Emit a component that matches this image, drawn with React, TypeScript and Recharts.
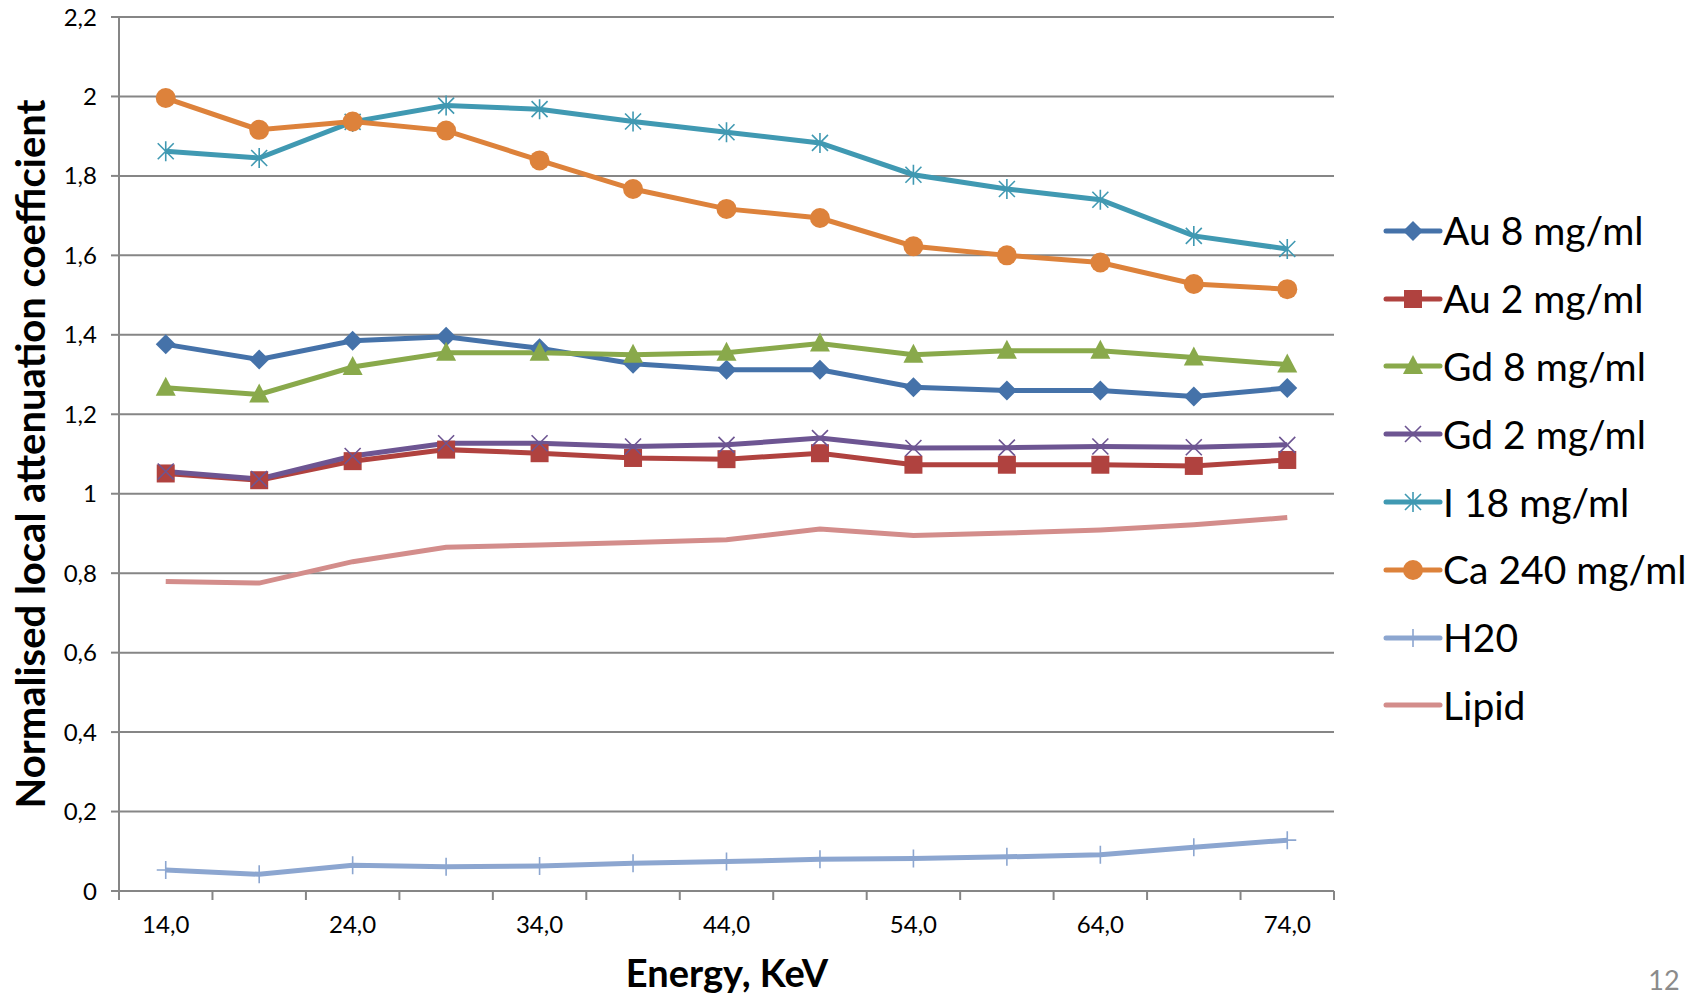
import React from 'react';
import { LineChart, Line, XAxis, YAxis, CartesianGrid } from 'recharts';

// Energy (KeV) categories
const energy = [14, 19, 24, 29, 34, 39, 44, 49, 54, 59, 64, 69, 74];

// series values
const au8 = [1.376, 1.338, 1.385, 1.395, 1.366, 1.327, 1.312, 1.312, 1.268, 1.260, 1.260, 1.245, 1.266];
const au2 = [1.051, 1.034, 1.082, 1.111, 1.102, 1.090, 1.087, 1.102, 1.073, 1.073, 1.073, 1.070, 1.085];
const gd8 = [1.267, 1.250, 1.319, 1.355, 1.355, 1.350, 1.355, 1.378, 1.350, 1.360, 1.360, 1.343, 1.325];
const gd2 = [1.056, 1.037, 1.095, 1.127, 1.127, 1.119, 1.123, 1.140, 1.115, 1.116, 1.119, 1.117, 1.123];
const i18 = [1.862, 1.845, 1.936, 1.977, 1.968, 1.937, 1.910, 1.883, 1.803, 1.767, 1.740, 1.649, 1.616];
const ca240 = [1.996, 1.916, 1.937, 1.914, 1.839, 1.767, 1.717, 1.694, 1.623, 1.600, 1.582, 1.528, 1.515];
const h2o = [0.053, 0.042, 0.065, 0.061, 0.063, 0.070, 0.074, 0.080, 0.082, 0.086, 0.091, 0.110, 0.128];
const lipid = [0.779, 0.775, 0.829, 0.865, 0.871, 0.877, 0.884, 0.911, 0.895, 0.901, 0.909, 0.922, 0.940];

// x axis: labels every other category, tick marks between categories
const xLabelTicks = [14, 24, 34, 44, 54, 64, 74];
const xBoundaryTicks = [11.5, 16.5, 21.5, 26.5, 31.5, 36.5, 41.5, 46.5, 51.5, 56.5, 61.5, 66.5, 71.5, 76.5];
const yTicks = [0, 0.2, 0.4, 0.6, 0.8, 1, 1.2, 1.4, 1.6, 1.8, 2, 2.2];

const FONT = 'Lato, "Open Sans", sans-serif';
const GRID = '#868686';

type MarkerShape = 'diamond' | 'square' | 'triangle' | 'cross' | 'star' | 'circle' | 'plus' | 'none';

const series: { key: string; name: string; color: string; marker: MarkerShape; values: number[] }[] = [
  { key: 'au8', name: 'Au 8 mg/ml', color: '#4572A9', marker: 'diamond', values: au8 },
  { key: 'au2', name: 'Au 2 mg/ml', color: '#B0423F', marker: 'square', values: au2 },
  { key: 'gd8', name: 'Gd 8 mg/ml', color: '#89A94B', marker: 'triangle', values: gd8 },
  { key: 'gd2', name: 'Gd 2 mg/ml', color: '#6D5592', marker: 'cross', values: gd2 },
  { key: 'i18', name: 'I 18 mg/ml', color: '#4099B2', marker: 'star', values: i18 },
  { key: 'ca240', name: 'Ca 240 mg/ml', color: '#DD823B', marker: 'circle', values: ca240 },
  { key: 'h2o', name: 'H20', color: '#8CA6D0', marker: 'plus', values: h2o },
  { key: 'lipid', name: 'Lipid', color: '#D38D8B', marker: 'none', values: lipid },
];

const data = energy.map((e, i) => {
  const row: Record<string, number> = { energy: e };
  series.forEach((s) => {
    row[s.key] = s.values[i];
  });
  return row;
});

function Marker({ shape, cx, cy, color }: { shape: MarkerShape; cx: number; cy: number; color: string }) {
  switch (shape) {
    case 'diamond':
      return <path d={`M${cx},${cy - 10}L${cx + 10},${cy}L${cx},${cy + 10}L${cx - 10},${cy}Z`} fill={color} />;
    case 'square':
      return <rect x={cx - 9} y={cy - 9} width={18} height={18} fill={color} />;
    case 'triangle':
      return <path d={`M${cx},${cy - 11}L${cx + 10},${cy + 8}L${cx - 10},${cy + 8}Z`} fill={color} />;
    case 'circle':
      return <circle cx={cx} cy={cy} r={10} fill={color} />;
    case 'cross':
      return (
        <path
          d={`M${cx - 8},${cy - 8}L${cx + 8},${cy + 8}M${cx - 8},${cy + 8}L${cx + 8},${cy - 8}`}
          stroke={color}
          strokeWidth={1.6}
          fill="none"
        />
      );
    case 'star':
      return (
        <path
          d={`M${cx - 8},${cy - 8}L${cx + 8},${cy + 8}M${cx - 8},${cy + 8}L${cx + 8},${cy - 8}M${cx},${cy - 10}L${cx},${cy + 10}`}
          stroke={color}
          strokeWidth={1.6}
          fill="none"
        />
      );
    case 'plus':
      return (
        <path
          d={`M${cx - 9},${cy}L${cx + 9},${cy}M${cx},${cy - 9}L${cx},${cy + 9}`}
          stroke={color}
          strokeWidth={1.6}
          fill="none"
        />
      );
    default:
      return null;
  }
}

function EnergyTick(props: any) {
  const { x, y, payload } = props;
  const v = payload.value as number;
  if (xLabelTicks.includes(v)) {
    return (
      <text x={x} y={y + 36} textAnchor="middle" dominantBaseline="middle" fontSize={24} fontFamily={FONT} fill="#000">
        {v.toFixed(1).replace('.', ',')}
      </text>
    );
  }
  return <line x1={x} y1={y} x2={x} y2={y + 9} stroke={GRID} strokeWidth={2} />;
}

function LegendBox() {
  return (
    <div style={{ position: 'absolute', left: 1383, top: 197, fontFamily: FONT }}>
      {series.map((s) => (
        <div key={s.key} style={{ height: 67.8, display: 'flex', alignItems: 'center' }}>
          <svg width={60} height={30}>
            <line x1={3} y1={15} x2={57} y2={15} stroke={s.color} strokeWidth={5} strokeLinecap="round" />
            <Marker shape={s.marker} cx={30} cy={15} color={s.color} />
          </svg>
          <span style={{ fontSize: 39, color: '#000', lineHeight: 1, whiteSpace: 'nowrap' }}>{s.name}</span>
        </div>
      ))}
    </div>
  );
}

export default function App() {
  return (
    <div style={{ position: 'absolute', left: 0, top: 0, width: 1702, height: 997, background: '#fff' }}>
      <LineChart width={1702} height={997} data={data} margin={{ top: 17, right: 368, bottom: 0, left: 0 }}>
        <CartesianGrid vertical={false} stroke={GRID} strokeWidth={2} />
        <XAxis
          dataKey="energy"
          type="number"
          domain={[11.5, 76.5]}
          ticks={[...xBoundaryTicks, ...xLabelTicks].sort((a, b) => a - b)}
          interval={0}
          tick={<EnergyTick />}
          tickLine={false}
          tickSize={0}
          tickMargin={0}
          height={106}
          stroke={GRID}
          strokeWidth={2}
        />
        <YAxis
          domain={[0, 2.2]}
          ticks={yTicks}
          interval={0}
          width={119}
          tickSize={8}
          tickMargin={14}
          stroke={GRID}
          strokeWidth={2}
          tick={{ fill: '#000', fontSize: 24, fontFamily: FONT }}
          tickFormatter={(v: number) => String(Math.round(v * 10) / 10).replace('.', ',')}
        />
        {series.map((s) => (
          <Line
            key={s.key}
            dataKey={s.key}
            name={s.name}
            stroke={s.color}
            strokeWidth={5}
            isAnimationActive={false}
            dot={
              s.marker === 'none'
                ? false
                : (p: any) => <Marker key={`${s.key}-${p.index}`} shape={s.marker} cx={p.cx} cy={p.cy} color={s.color} />
            }
            activeDot={false}
          />
        ))}
      </LineChart>
      <svg style={{ position: 'absolute', left: 0, top: 0 }} width={1702} height={997} pointerEvents="none">
        <text
          x={30}
          y={454}
          transform="rotate(-90 30 454)"
          textAnchor="middle"
          dominantBaseline="central"
          fontSize={40}
          fontWeight="bold"
          fontFamily={FONT}
          fill="#000"
        >
          Normalised local attenuation coefficient
        </text>
        <text x={727} y={972} textAnchor="middle" dominantBaseline="central" fontSize={38} fontWeight="bold" fontFamily={FONT} fill="#000">
          Energy, KeV
        </text>
        <text x={1664} y={979} textAnchor="middle" dominantBaseline="central" fontSize={27} fontFamily={FONT} fill="#8b8b8b">
          12
        </text>
      </svg>
      <LegendBox />
    </div>
  );
}
